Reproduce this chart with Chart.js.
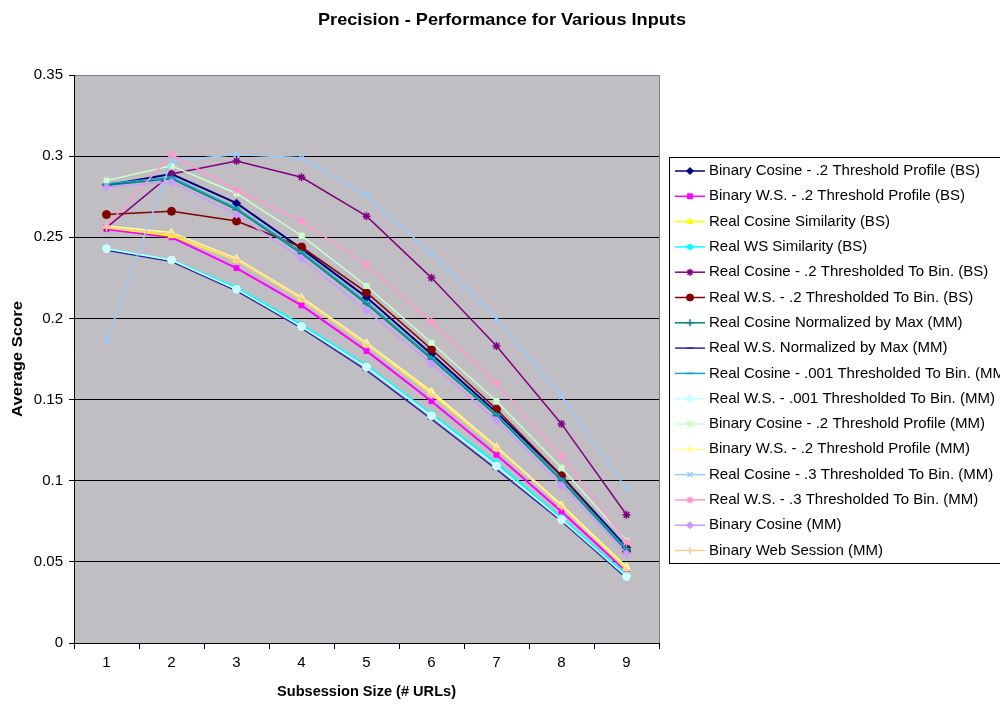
<!DOCTYPE html>
<html><head><meta charset="utf-8">
<script src="https://cdn.jsdelivr.net/npm/chart.js@4/dist/chart.umd.min.js"></script>
<style>html,body{margin:0;padding:0;background:#fff;}canvas{display:block;}</style>
</head><body>
<canvas id="c" width="1000" height="705"></canvas>
<script>
// ---- data ----
const categories = ['1','2','3','4','5','6','7','8','9'];
const seriesNames = [
  'Binary Cosine - .2 Threshold Profile (BS)',
  'Binary W.S. - .2 Threshold Profile (BS)',
  'Real Cosine Similarity (BS)',
  'Real WS Similarity (BS)',
  'Real Cosine - .2 Thresholded To Bin. (BS)',
  'Real W.S. - .2 Thresholded To Bin. (BS)',
  'Real Cosine Normalized by Max (MM)',
  'Real W.S. Normalized by Max (MM)',
  'Real Cosine - .001 Thresholded To Bin. (MM)',
  'Real W.S. - .001 Thresholded To Bin. (MM)',
  'Binary Cosine - .2 Threshold Profile (MM)',
  'Binary W.S. - .2 Threshold Profile (MM)',
  'Real Cosine - .3 Thresholded To Bin. (MM)',
  'Real W.S. - .3 Thresholded To Bin. (MM)',
  'Binary Cosine (MM)',
  'Binary Web Session (MM)'
];
const binCosBS      = [0.282, 0.289, 0.271, 0.243, 0.213, 0.178, 0.142, 0.103, 0.059];
const binWsBS       = [0.255, 0.250, 0.231, 0.208, 0.180, 0.149, 0.116, 0.081, 0.044];
const realCosBS     = [0.256, 0.251, 0.236, 0.212, 0.184, 0.154, 0.120, 0.085, 0.046];
const realWsBS      = [0.243, 0.236, 0.219, 0.196, 0.171, 0.141, 0.111, 0.077, 0.042];
const realCos2BS    = [0.256, 0.289, 0.297, 0.287, 0.263, 0.225, 0.183, 0.135, 0.079];
const realWs2BS     = [0.264, 0.266, 0.260, 0.244, 0.216, 0.181, 0.144, 0.103, 0.057];
const realCosMaxMM  = [0.282, 0.286, 0.267, 0.240, 0.209, 0.175, 0.140, 0.100, 0.057];
const realWsMaxMM   = [0.242, 0.235, 0.217, 0.194, 0.168, 0.138, 0.107, 0.075, 0.040];
const realCos001MM  = [0.283, 0.287, 0.268, 0.241, 0.210, 0.176, 0.141, 0.101, 0.058];
const realWs001MM   = [0.243, 0.236, 0.218, 0.195, 0.170, 0.140, 0.109, 0.076, 0.041];
const binCos2MM     = [0.285, 0.294, 0.277, 0.251, 0.220, 0.185, 0.149, 0.108, 0.063];
const binWs2MM      = [0.257, 0.253, 0.237, 0.213, 0.185, 0.155, 0.121, 0.085, 0.047];
const realCos3MM    = [0.186, 0.297, 0.301, 0.299, 0.276, 0.240, 0.200, 0.152, 0.095];
const realWs3MM     = [0.257, 0.301, 0.279, 0.260, 0.233, 0.198, 0.160, 0.115, 0.062];
const binCosMM      = [0.281, 0.284, 0.264, 0.237, 0.205, 0.172, 0.137, 0.097, 0.055];
const binWebMM      = [0.256, 0.252, 0.236, 0.212, 0.184, 0.153, 0.120, 0.084, 0.045];
const yTickValues   = [0, 0.05, 0.1, 0.15, 0.2, 0.25, 0.3, 0.35];

const seriesValues = [binCosBS, binWsBS, realCosBS, realWsBS, realCos2BS, realWs2BS,
  realCosMaxMM, realWsMaxMM, realCos001MM, realWs001MM, binCos2MM, binWs2MM,
  realCos3MM, realWs3MM, binCosMM, binWebMM];

// ---- styles ----
const colors = ['#000080','#ff00ff','#ffff00','#00ffff','#800080','#800000','#008080','#2a2aa8',
  '#18a0c0','#ccffff','#ccffcc','#ffff99','#99ccff','#ff99cc','#cc99ff','#ffcc99'];
const markers = ['rectRot','rect','triangle','star','star','circle','cross','line',
  'line','circle','rect','triangle','crossRot','star','rectRot','cross'];
const lineWidths = [2,2,2,2,1.5,1.5,1.5,1.5,1.5,1.5,1.5,1.5,1.5,1.5,1.5,1.5];

const FONT = '"Liberation Sans", Arial, sans-serif';

const datasets = seriesValues.map((vals, i) => ({
  label: seriesNames[i],
  data: vals,
  borderColor: colors[i],
  backgroundColor: colors[i],
  pointBackgroundColor: colors[i],
  pointBorderColor: colors[i],
  pointStyle: markers[i],
  pointRadius: (markers[i] === 'rect') ? 3.5 : 4,
  pointBorderWidth: (['star','cross','crossRot','line'].includes(markers[i])) ? 1.5 : 1,
  borderWidth: lineWidths[i],
  fill: false,
  tension: 0,
  order: seriesValues.length - i
}));

function fitText(ctx, text, x, y, width, font, rot) {
  ctx.save();
  ctx.font = font;
  const w = ctx.measureText(text).width;
  ctx.translate(x, y);
  if (rot) ctx.rotate(rot);
  ctx.scale(width / w, 1);
  ctx.textAlign = 'center';
  ctx.textBaseline = 'middle';
  ctx.fillStyle = '#000';
  ctx.fillText(text, 0, 0);
  ctx.restore();
}

const decor = {
  id: 'decor',
  beforeDraw(chart) {
    const {ctx, chartArea: a} = chart;
    ctx.save();
    ctx.fillStyle = '#fff';
    ctx.fillRect(0, 0, chart.width, chart.height);
    ctx.fillStyle = '#c0bec3';
    ctx.fillRect(a.left, a.top, a.right - a.left, a.bottom - a.top);
    ctx.strokeStyle = '#808080';
    ctx.lineWidth = 1;
    ctx.beginPath();
    ctx.moveTo(a.left, a.top + 0.5); ctx.lineTo(a.right + 0.5, a.top + 0.5);
    ctx.lineTo(a.right + 0.5, a.bottom);
    ctx.stroke();
    ctx.restore();
  },
  afterDraw(chart) {
    const ctx = chart.ctx;
    const a = chart.chartArea;
    fitText(ctx, 'Precision - Performance for Various Inputs', 502, 20, 368, 'bold 17px ' + FONT);
    fitText(ctx, 'Subsession Size (# URLs)', (a.left + a.right) / 2, 692, 179, 'bold 15px ' + FONT);
    fitText(ctx, 'Average Score', 18, (a.top + a.bottom) / 2, 116, 'bold 15px ' + FONT, -Math.PI / 2);
    // legend
    ctx.save();
    const lx = 669.5, ly = 157.5;
    ctx.fillStyle = '#fff';
    ctx.fillRect(lx, ly, 400, 406);
    ctx.strokeStyle = '#000';
    ctx.lineWidth = 1;
    ctx.strokeRect(lx, ly, 400, 406);
    chart.data.datasets.forEach((ds, i) => {
      const y = 171 + i * 25.3;
      ctx.strokeStyle = ds.borderColor;
      ctx.lineWidth = 1.5;
      ctx.beginPath(); ctx.moveTo(675, y); ctx.lineTo(705, y); ctx.stroke();
      ctx.fillStyle = ds.pointBackgroundColor;
      ctx.strokeStyle = ds.pointBorderColor;
      ctx.lineWidth = ds.pointBorderWidth;
      Chart.helpers.drawPoint(ctx, {pointStyle: ds.pointStyle, rotation: 0,
        radius: 3.5, borderWidth: ds.pointBorderWidth}, 690, y);
      ctx.fillStyle = '#000';
      ctx.font = '15px ' + FONT;
      ctx.textAlign = 'left';
      ctx.textBaseline = 'middle';
      ctx.fillText(ds.label, 709, y);
    });
    ctx.restore();
  }
};

new Chart(document.getElementById('c'), {
  type: 'line',
  data: { labels: categories, datasets },
  options: {
    responsive: false,
    animation: false,
    devicePixelRatio: 1,
    layout: { padding: { left: 24, right: 341, top: 75, bottom: 32 } },
    plugins: { legend: { display: false }, title: { display: false }, tooltip: { enabled: false } },
    scales: {
      x: {
        type: 'category',
        offset: true,
        afterFit(s) { s.height = 30; },
        grid: { display: true, drawOnChartArea: false, drawTicks: true, tickLength: 6,
                offset: true, color: '#000', tickColor: '#000' },
        border: { display: true, color: '#000', width: 1 },
        ticks: { color: '#000', padding: 5, font: { family: FONT, size: 15 }, maxRotation: 0 }
      },
      y: {
        min: 0, max: 0.35,
        afterFit(s) { s.width = 50; },
        afterBuildTicks(s) { s.ticks = yTickValues.map(v => ({ value: v })); },
        grid: { color: (c) => (c.tick && c.tick.value >= 0.349 ? '#808080' : '#000'),
                tickColor: '#000', tickLength: 5, lineWidth: 1 },
        border: { display: true, color: '#000', width: 1 },
        ticks: { color: '#000', padding: 6, font: { family: FONT, size: 15 },
                 callback: (v) => String(+v.toFixed(2)) }
      }
    }
  },
  plugins: [decor]
});
</script>
</body></html>
